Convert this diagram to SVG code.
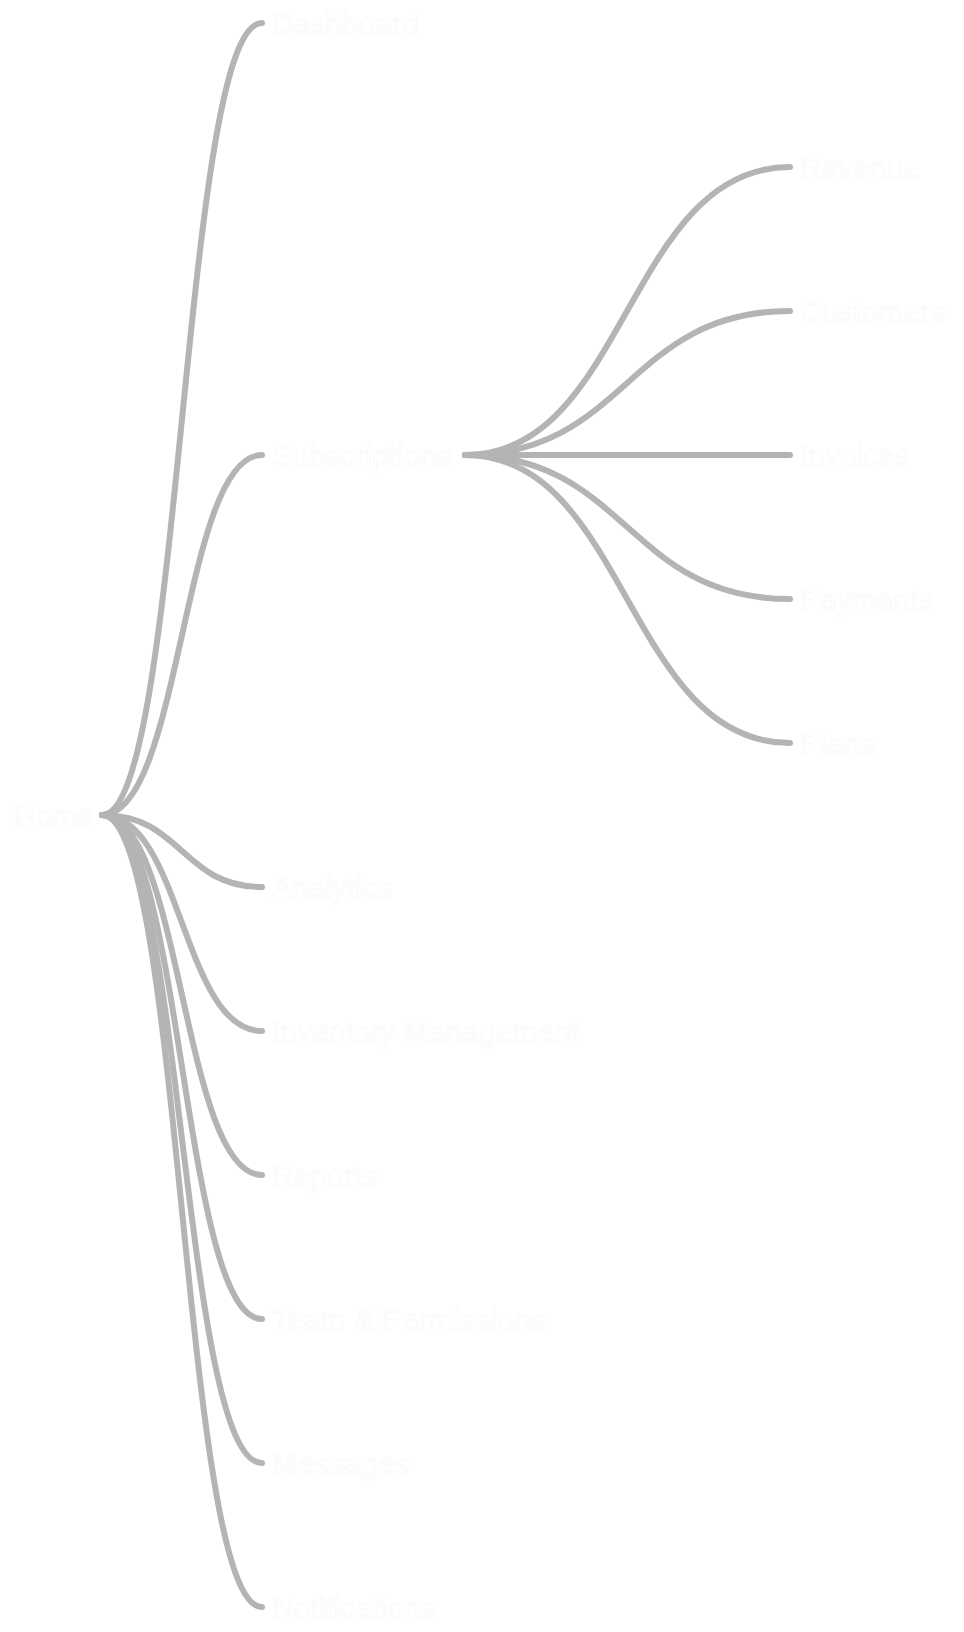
<svg xmlns="http://www.w3.org/2000/svg" width="964" height="1632" viewBox="0 0 964 1632">
<style>
.link{fill:none;stroke:#b4b4b4;stroke-width:6;stroke-linecap:round}
.lbl{font-family:"Liberation Sans",Arial,sans-serif;font-size:30px;fill:#ffffff;stroke:#f6f6f6;stroke-width:0.5}
</style>
<rect width="964" height="1632" fill="#ffffff"/>
<g id="connectors">
<path class="link" d="M102,815 C182,815 182,23 262,23"/>
<path class="link" d="M102,815 C182,815 182,455 262,455"/>
<path class="link" d="M102,815 C182,815 182,887 262,887"/>
<path class="link" d="M102,815 C182,815 182,1031 262,1031"/>
<path class="link" d="M102,815 C182,815 182,1175 262,1175"/>
<path class="link" d="M102,815 C182,815 182,1319 262,1319"/>
<path class="link" d="M102,815 C182,815 182,1463 262,1463"/>
<path class="link" d="M102,815 C182,815 182,1607 262,1607"/>
<path class="link" d="M465,455 C627,455 627,167 790,167"/>
<path class="link" d="M465,455 C627,455 627,311 790,311"/>
<path class="link" d="M465,455 C627,455 627,455 790,455"/>
<path class="link" d="M465,455 C627,455 627,599 790,599"/>
<path class="link" d="M465,455 C627,455 627,743 790,743"/>
</g>
<g id="node-root"><text class="lbl" x="94" y="826" text-anchor="end">Home</text></g>
<g id="node-dashboard"><text class="lbl" x="272" y="34">Dashboard</text></g>
<g id="node-billing"><text class="lbl" x="272" y="466">Subscriptions</text></g>
<g id="node-revenue"><text class="lbl" x="800" y="178">Revenue</text></g>
<g id="node-customers"><text class="lbl" x="800" y="322">Customers</text></g>
<g id="node-invoices"><text class="lbl" x="800" y="466">Invoices</text></g>
<g id="node-payments"><text class="lbl" x="800" y="610">Payments</text></g>
<g id="node-plans"><text class="lbl" x="800" y="754">Plans</text></g>
<g id="node-analytics"><text class="lbl" x="272" y="898">Analytics</text></g>
<g id="node-inventory"><text class="lbl" x="272" y="1042">Inventory Management</text></g>
<g id="node-reports"><text class="lbl" x="272" y="1186">Reports</text></g>
<g id="node-team"><text class="lbl" x="272" y="1330">Team &amp; Permissions</text></g>
<g id="node-messages"><text class="lbl" x="272" y="1474">Messages</text></g>
<g id="node-notifications"><text class="lbl" x="272" y="1618">Notifications</text></g>
</svg>
